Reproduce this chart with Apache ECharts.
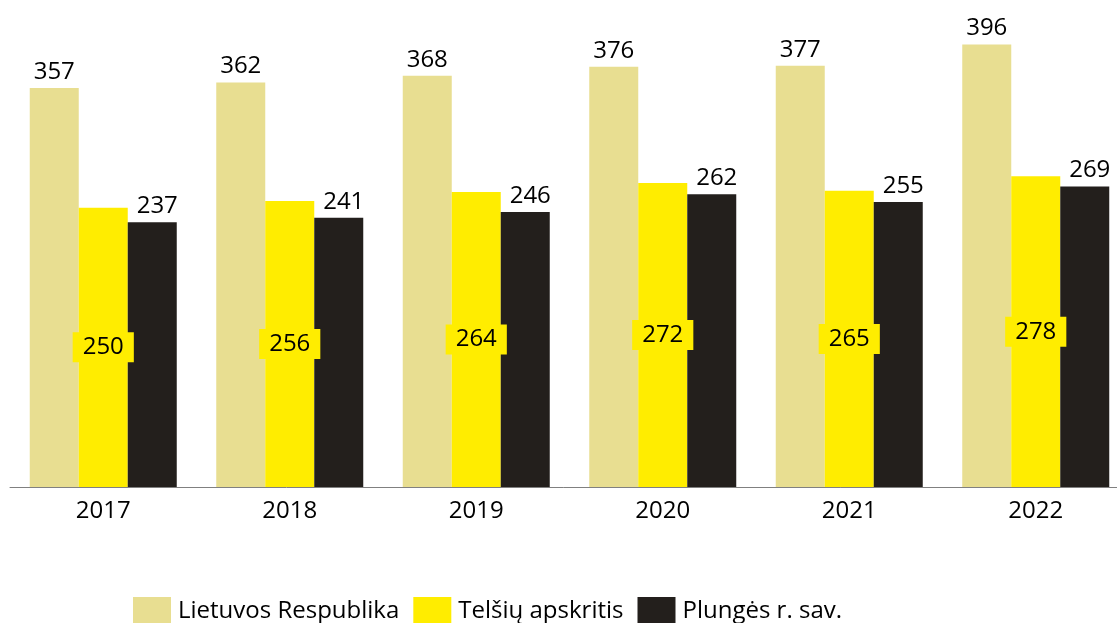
<!DOCTYPE html>
<html>
<head>
<meta charset="utf-8">
<script src="https://cdn.jsdelivr.net/npm/echarts@6/dist/echarts.min.js"></script>
<style>
html,body{margin:0;padding:0;background:#fff;}
#chart{width:1117px;height:623px;}
</style>
</head>
<body>
<div id="chart"></div>
<script>
const years = ['2017', '2018', '2019', '2020', '2021', '2022'];
const seriesNames = ['Lietuvos Respublika', 'Telšių apskritis', 'Plungės r. sav.'];
const lietuva = [357, 362, 368, 376, 377, 396];
const telsiai = [250, 256, 264, 272, 265, 278];
const plunge = [237, 241, 246, 262, 255, 269];

const FONT = 'Open Sans';
const chart = echarts.init(document.getElementById('chart'), null, {renderer: 'canvas'});
const labelBase = {fontFamily: FONT, fontSize: 24, color: '#000'};
chart.setOption({
  animation: false,
  textStyle: {fontFamily: FONT},
  grid: {left: 10, width: 1119, top: 40, bottom: 136, containLabel: false, outerBoundsMode: 'none'},
  legend: {
    left: 133, top: 597, padding: 0,
    itemWidth: 38, itemHeight: 28, itemGap: 14,
    icon: 'rect',
    textStyle: {fontFamily: FONT, fontSize: 24, color: '#000', padding: [2, 0, 0, 2]},
    data: seriesNames
  },
  xAxis: {
    type: 'category', data: years,
    axisLine: {lineStyle: {color: '#808080', width: 1}},
    axisTick: {show: false},
    axisLabel: {fontFamily: FONT, fontSize: 24, color: '#000', margin: 12}
  },
  yAxis: {type: 'value', min: 0, max: 400, show: false, splitLine: {show: false}},
  series: [
    {name: seriesNames[0], type: 'bar', data: lietuva, barWidth: 49, barGap: '0%',
     itemStyle: {color: '#E8DE91'},
     label: Object.assign({show: true, position: 'top', distance: 4}, labelBase)},
    {name: seriesNames[1], type: 'bar', data: telsiai, barWidth: 49, barGap: '0%',
     itemStyle: {color: '#FFED00'},
     label: Object.assign({show: true, position: 'inside', backgroundColor: '#FFED00', padding: [3, 10], lineHeight: 24}, labelBase)},
    {name: seriesNames[2], type: 'bar', data: plunge, barWidth: 49, barGap: '0%',
     itemStyle: {color: '#231F1C'},
     label: Object.assign({show: true, position: 'top', distance: 4, offset: [5, 0]}, labelBase)}
  ]
});
</script>
</body>
</html>
